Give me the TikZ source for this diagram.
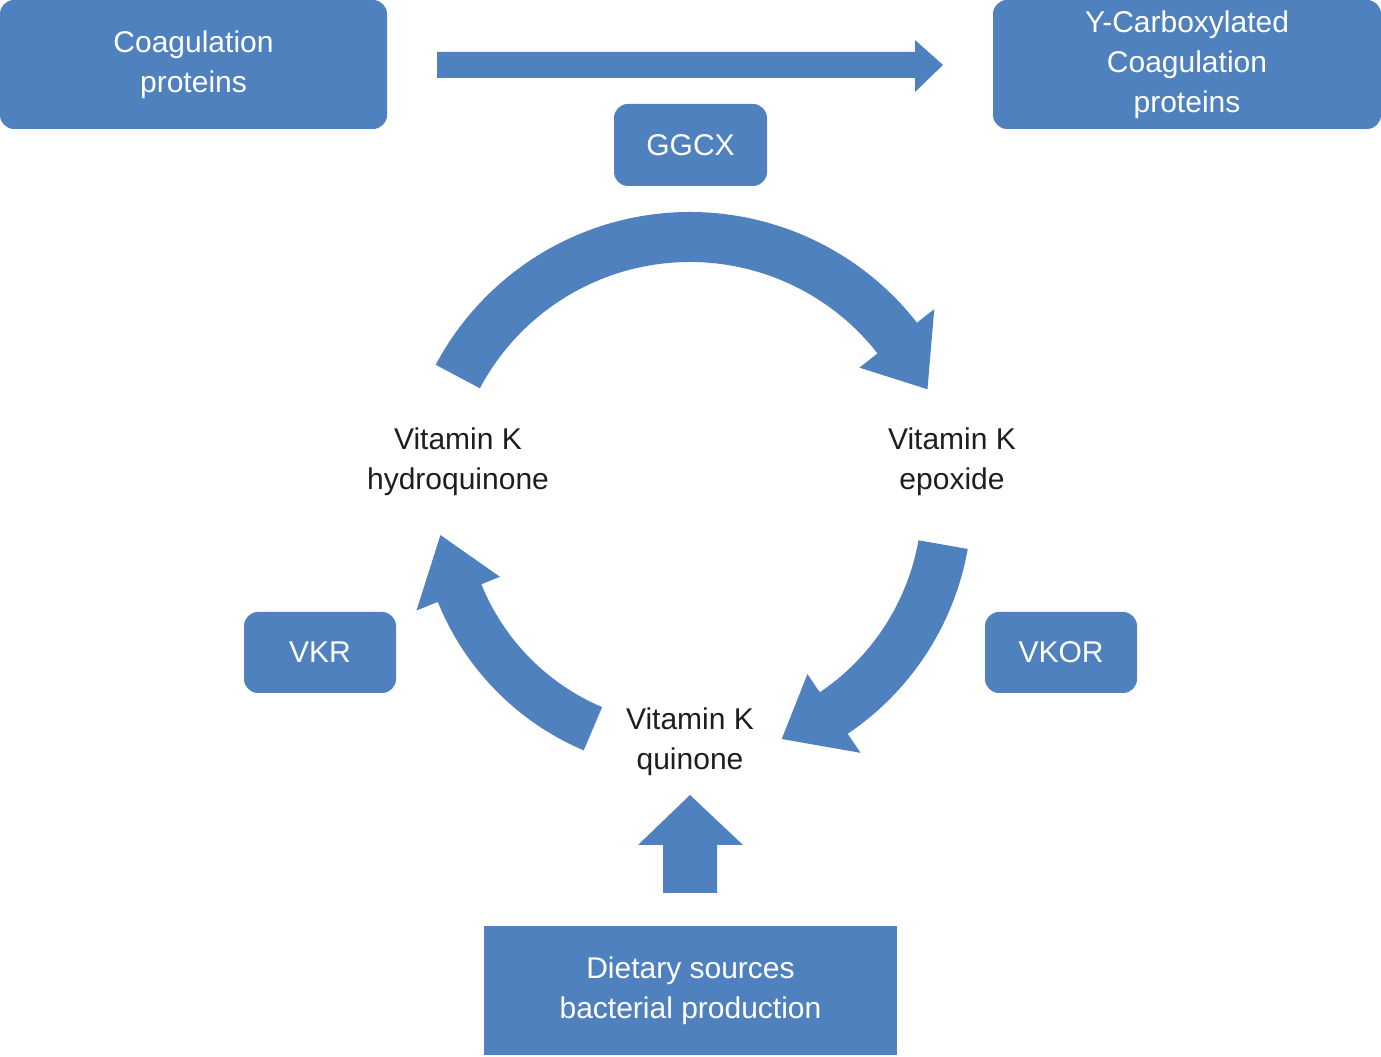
\documentclass[tikz,border=0pt]{standalone}
\usepackage{fontspec}
\setmainfont{Liberation Sans}
\definecolor{bl}{RGB}{79,129,191}
\definecolor{tx}{RGB}{30,30,30}
\begin{document}
\begin{tikzpicture}[x=1pt,y=1pt,
  box/.style={fill=bl,rounded corners=14pt,text=white,align=center,font=\fontsize{30}{40}\selectfont},
  lbl/.style={text=tx,align=center,font=\fontsize{30}{40}\selectfont}]
\useasboundingbox (0,0) rectangle (1381,1057);
% boxes (y flipped)
\node[box,minimum width=387,minimum height=129] (cp) at (193.5,992.5) {Coagulation\\proteins};
\node[box,minimum width=388,minimum height=129] (yc) at (1187,992.5) {Y-Carboxylated\\Coagulation\\proteins};
\node[box,minimum width=153,minimum height=82] (gg) at (690.5,912) {GGCX};
\node[box,minimum width=152,minimum height=81] (vkr) at (320,404.5) {VKR};
\node[box,minimum width=152,minimum height=81] (vkor) at (1061,404.5) {VKOR};
\node[box,rounded corners=0pt,minimum width=413,minimum height=129] (ds) at (690.5,66.5) {Dietary sources\\bacterial production};
% labels
\node[lbl] (hq) at (458,595) {Vitamin K\\hydroquinone};
\node[lbl] (ep) at (952,595) {Vitamin K\\epoxide};
\node[lbl] (qu) at (690,315) {Vitamin K\\quinone};
% top arrow
\fill[bl] (437,1005) -- (915,1005) -- (915,1017) -- (943,992) -- (915,965) -- (915,979) -- (437,979) -- cycle;
% up arrow
\fill[bl] (663,164) -- (717,164) -- (717,212) -- (743,212) -- (690,262) -- (638,212) -- (663,212) -- cycle;
% circular arrows, center (690,557)
\begin{scope}[shift={(690,557)}]
\fill[bl] (152:288) arc[start angle=152,end angle=38,radius=288] -- (38:310) -- (25:262) -- (38:215) -- (38:238) arc[start angle=38,end angle=152,radius=238] -- cycle;
\fill[bl] (-10:282) arc[start angle=-10,end angle=-56,radius=282] -- (-56:305) -- (-69:256) -- (-56:210) -- (-56:232) arc[start angle=-56,end angle=-10,radius=232] -- cycle;
\fill[bl] (-113:272) arc[start angle=-113,end angle=-158,radius=272] -- (-158:295) -- (-172:252) -- (-158:205) -- (-158:225) arc[start angle=-158,end angle=-113,radius=225] -- cycle;
\end{scope}
\end{tikzpicture}
\end{document}
